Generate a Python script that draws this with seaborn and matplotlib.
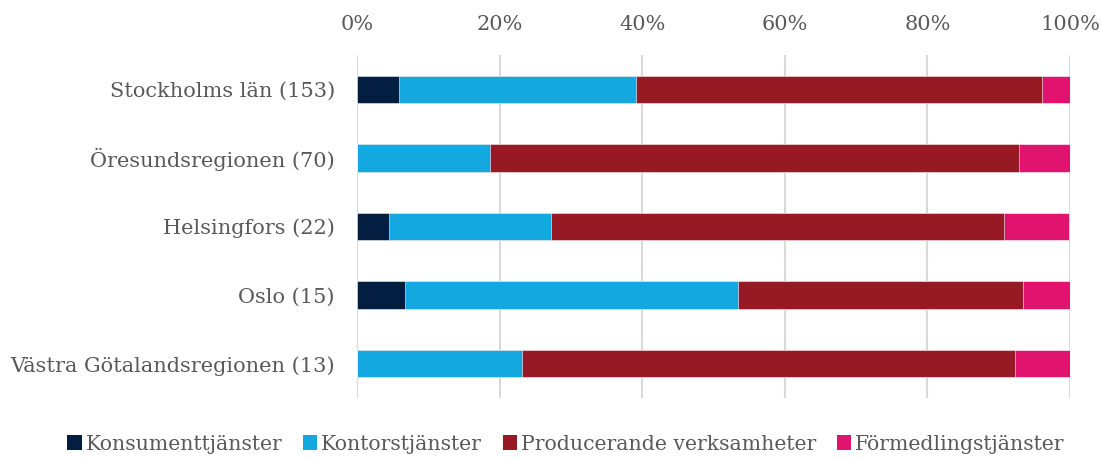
import matplotlib
matplotlib.use("Agg")
import matplotlib.pyplot as plt
import seaborn as sns
import pandas as pd
import numpy as np
from matplotlib.patches import Patch

regions = ["Stockholms län (153)", "Öresundsregionen (70)", "Helsingfors (22)",
           "Oslo (15)", "Västra Götalandsregionen (13)"]
series = ["Konsumenttjänster", "Kontorstjänster", "Producerande verksamheter", "Förmedlingstjänster"]
konsument = [5.9, 0.0, 4.5, 6.7, 0.0]
kontor = [33.3, 18.6, 22.7, 46.7, 23.1]
producerande = [56.9, 74.3, 63.6, 40.0, 69.2]
formedling = [3.9, 7.1, 9.1, 6.7, 7.7]
colors = ["#041e42", "#14a8e0", "#961924", "#e0146e"]
ticks = [0, 20, 40, 60, 80, 100]
tick_labels = ["0%", "20%", "40%", "60%", "80%", "100%"]

sns.set_theme(style="white")
plt.rcParams["font.family"] = ["DejaVu Serif"]
text_color = "#595959"

df = pd.DataFrame({"region": regions, series[0]: konsument, series[1]: kontor,
                   series[2]: producerande, series[3]: formedling})
cum = df[series].cumsum(axis=1)

fig = plt.figure(figsize=(11.01, 4.59), dpi=100)
ax = fig.add_axes([357/1101, 1-398/459, 713/1101, 343/459])

for i in range(len(series)-1, -1, -1):
    d = pd.DataFrame({"region": regions, "val": cum[series[i]].values})
    sns.barplot(data=d, x="val", y="region", color=colors[i], orient="h",
                width=0.4, ax=ax, edgecolor="white", linewidth=0.4, saturation=1)

ax.set_xlim(0, 100)
ax.set_ylim(4.5, -0.5)
ax.set_xticks(ticks)
ax.set_xticklabels(tick_labels)
ax.xaxis.tick_top()
ax.set_xlabel("")
ax.set_ylabel("")
for s in ax.spines.values():
    s.set_visible(False)
ax.grid(axis="x", color="#d9d9d9", linewidth=1.5)
ax.set_axisbelow(True)
ax.tick_params(axis="x", length=0, pad=15, labelsize=15, colors=text_color)
ax.tick_params(axis="y", length=0, pad=16, labelsize=15, colors=text_color)

handles = [Patch(facecolor=c, edgecolor="none", label=l) for c, l in zip(colors, series)]
fig.legend(handles=handles, loc="center", bbox_to_anchor=(566/1101, 1-444/459), ncol=4,
           frameon=False, fontsize=14.7, handlelength=0.7, handleheight=0.7,
           handletextpad=0.2, columnspacing=1.0, labelcolor=text_color)

fig.savefig("out.png", dpi=100)
